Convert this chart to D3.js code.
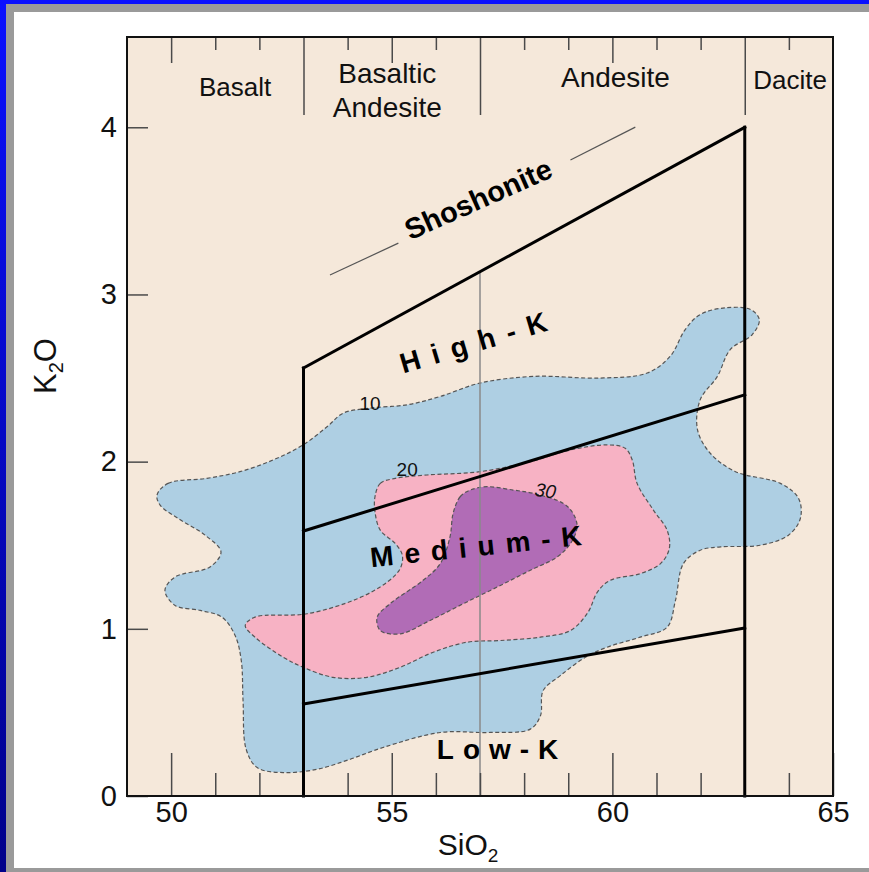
<!DOCTYPE html>
<html>
<head>
<meta charset="utf-8">
<script src="https://cdn.jsdelivr.net/npm/d3@7/dist/d3.min.js"></script>
<style>
  html, body { margin: 0; padding: 0; background: #ffffff; }
  svg { display: block; }
  text { font-family: "Liberation Sans", Arial, Helvetica, sans-serif; }
</style>
</head>
<body>
<svg id="chart" width="869" height="872"></svg>
<script>
// ---------------- DATA ----------------
const xDomain = [49, 65];          // SiO2 (wt%)
const yDomain = [0, 4.54];         // K2O (wt%)
const xMajorTicks = [50, 55, 60, 65];
const xMinorTicks = [51, 52, 53, 54, 56, 57, 58, 59, 61, 62, 63, 64];
const yTicks = [0, 1, 2, 3, 4];
const rockBoundaries = [53, 57, 63];

const rockNames = ["Basalt", "Basaltic|Andesite", "Andesite", "Dacite"];
const rockNameX = [51.45, 54.9, 60.07, 64.03];

// field boundary lines (SiO2, K2O)
const leftWall     = [[53, 0], [53, 2.56]];
const rightWall    = [[63, 0], [63, 4.0]];
const shoshoniteTop = [[53, 2.56], [63, 4.0]];
const highMedium   = [[53, 1.585], [63, 2.40]];
const mediumLow    = [[53, 0.55], [63, 1.005]];
const divider57    = [[57, 3.136], [57, 0]];
const shoDashA     = [[53.6, 3.116], [55.15, 3.307]];
const shoDashB     = [[59.05, 3.804], [60.52, 4.001]];

// contour lines (density of analyses, %)
const contourLevels = ["10", "20", "30"];
const contour10 = [
  [49.68,1.80],[49.93,1.87],[50.81,1.90],[51.56,1.94],[52.31,2.01],[52.99,2.10],
  [53.54,2.21],[53.90,2.29],[54.51,2.32],[55.35,2.34],[56.10,2.39],[57.00,2.47],
  [58.21,2.51],[59.73,2.50],[60.79,2.53],[61.31,2.63],[61.65,2.79],[61.99,2.88],
  [62.56,2.92],[63.13,2.91],[63.33,2.85],[63.17,2.76],[62.67,2.67],[62.38,2.51],
  [61.99,2.37],[61.93,2.19],[62.22,2.05],[62.79,1.94],[63.81,1.87],[64.22,1.78],
  [64.26,1.66],[63.99,1.56],[63.35,1.50],[62.45,1.49],[61.99,1.47],[61.61,1.39],
  [61.43,1.17],[61.24,1.01],[60.63,0.95],[59.88,0.89],[59.39,0.83],[58.82,0.72],
  [58.43,0.63],[58.37,0.48],[58.14,0.40],[57.23,0.38],[56.10,0.38],[54.80,0.29],
  [54.06,0.22],[53.31,0.16],[52.54,0.14],[51.95,0.17],[51.70,0.28],[51.63,0.57],
  [51.59,0.81],[51.45,0.96],[51.15,1.07],[50.66,1.11],[50.09,1.14],[49.86,1.23],
  [50.09,1.31],[50.88,1.37],[51.13,1.46],[50.77,1.56],[50.16,1.66],[49.75,1.74]
];
const contour20 = [
  [54.62,1.79],[54.74,1.87],[55.08,1.90],[55.80,1.92],[57.00,1.94],[58.14,2.00],
  [59.05,2.07],[59.88,2.10],[60.29,2.08],[60.45,2.01],[60.56,1.87],[60.93,1.71],
  [61.24,1.59],[61.29,1.48],[61.09,1.39],[60.63,1.33],[59.95,1.29],[59.66,1.22],
  [59.45,1.10],[59.05,0.99],[58.37,0.95],[57.46,0.93],[56.71,0.92],[55.94,0.86],
  [55.19,0.77],[54.44,0.71],[53.67,0.71],[52.99,0.77],[52.54,0.83],[51.90,0.95],
  [51.68,1.02],[51.90,1.07],[53.08,1.09],[54.22,1.18],[54.90,1.28],[55.19,1.36],
  [55.24,1.44],[55.08,1.51],[54.74,1.59],[54.62,1.70]
];
const contour30 = [
  [56.39,1.69],[56.55,1.79],[56.78,1.83],[57.16,1.85],[57.75,1.83],[58.21,1.81],
  [58.89,1.75],[59.11,1.69],[59.20,1.61],[59.05,1.51],[58.75,1.43],[58.14,1.35],
  [57.39,1.25],[56.62,1.15],[55.87,1.05],[55.19,0.97],[54.74,0.99],[54.67,1.07],
  [54.96,1.15],[55.71,1.29],[56.10,1.39],[56.32,1.55]
];
const contourLabelPos = [[54.51, 2.35], [55.35, 1.955], [58.48, 1.826]];

// series field names
const fieldNames = ["Shoshonite", "High-K", "Medium-K", "Low-K"];
const fieldPos = [[56.96, 3.57], [56.98, 2.721], [57.03, 1.495], [57.5, 0.281]];
const fieldAngle = [-24, -16.5, -6, 0];

// ---------------- LAYOUT ----------------
const W = 869, H = 872;
const plot = { left: 127, right: 833, top: 37, bottom: 796 };
const colors = {
  bg: "#f5e8da", c10: "#aecfe3", c20: "#f7b2c4", c30: "#b16cb6",
  dash: "#555555", tick: "#4a4a4a", thin: "#8a8a8a"
};
const font = '"Liberation Sans", Arial, Helvetica, sans-serif';

const svg = d3.select("#chart");
const defs = svg.append("defs");
const grad = defs.append("linearGradient").attr("id", "frameBlue")
  .attr("x1", 0).attr("y1", 0).attr("x2", 0).attr("y2", 1);
grad.append("stop").attr("offset", "0%").attr("stop-color", "#0a10ff");
grad.append("stop").attr("offset", "100%").attr("stop-color", "#00008a");

// slide frame
svg.append("rect").attr("x", 0).attr("y", 0).attr("width", W).attr("height", H).attr("fill", "url(#frameBlue)");
svg.append("rect").attr("x", 6).attr("y", 4).attr("width", W - 6).attr("height", H - 4).attr("fill", "#9a9a9a");
svg.append("rect").attr("x", 14).attr("y", 12).attr("width", W - 14).attr("height", H - 12 - 4).attr("fill", "#ffffff");

const x = d3.scaleLinear().domain(xDomain).range([plot.left, plot.right]);
const y = d3.scaleLinear().domain(yDomain).range([plot.bottom, plot.top]);

const g = svg.append("g");
g.append("rect").attr("x", plot.left).attr("y", plot.top)
  .attr("width", plot.right - plot.left).attr("height", plot.bottom - plot.top)
  .attr("fill", colors.bg);

// contours
const area = d3.line().x(d => x(d[0])).y(d => y(d[1])).curve(d3.curveCatmullRomClosed.alpha(0.5));
[[contour10, colors.c10], [contour20, colors.c20], [contour30, colors.c30]].forEach(([pts, c]) => {
  g.append("path").attr("d", area(pts)).attr("fill", c)
    .attr("stroke", colors.dash).attr("stroke-width", 1.2).attr("stroke-dasharray", "4 2.5");
});

// contour labels
contourLevels.forEach((lab, i) => {
  g.append("text").attr("x", x(contourLabelPos[i][0])).attr("y", y(contourLabelPos[i][1]))
    .attr("text-anchor", "middle").attr("dominant-baseline", "central")
    .attr("font-size", 19).attr("fill", "#111")
    .attr("font-style", i === 2 ? "italic" : "normal")
    .attr("transform", i === 2 ? `rotate(8,${x(contourLabelPos[i][0])},${y(contourLabelPos[i][1])})` : null)
    .text(lab);
});

// lines
const line = d3.line().x(d => x(d[0])).y(d => y(d[1]));
g.append("path").attr("d", line(divider57)).attr("stroke", colors.thin).attr("stroke-width", 1.5).attr("fill", "none");
[leftWall, rightWall, shoshoniteTop, highMedium, mediumLow].forEach(l => {
  g.append("path").attr("d", line(l)).attr("stroke", "#000").attr("stroke-width", 3)
    .attr("fill", "none").attr("stroke-linecap", "square");
});
[shoDashA, shoDashB].forEach(l => {
  g.append("path").attr("d", line(l)).attr("stroke", "#555").attr("stroke-width", 1.2).attr("fill", "none");
});

// field names
const spacing = [0, 12, 11, 9];
fieldNames.forEach((name, i) => {
  g.append("text")
    .attr("transform", `translate(${x(fieldPos[i][0])},${y(fieldPos[i][1])}) rotate(${fieldAngle[i]})`)
    .attr("text-anchor", "middle").attr("dominant-baseline", "central")
    .attr("font-size", i === 0 ? 29 : 28).attr("font-weight", "bold").attr("fill", "#000")
    .attr("letter-spacing", spacing[i])
    .text(name);
});

// rock names along the top
rockNames.forEach((n, i) => {
  const parts = n.split("|");
  const big = parts.length > 1 || n === "Andesite";
  const fs = big ? 28 : 26;
  const yy = parts.length > 1 ? [4.324, 4.12] : [n === "Andesite" ? 4.30 : (n === "Dacite" ? 4.28 : 4.24)];
  parts.forEach((p, j) => {
    g.append("text").attr("x", x(rockNameX[i])).attr("y", y(yy[j]))
      .attr("text-anchor", "middle").attr("dominant-baseline", "central")
      .attr("font-size", fs).attr("fill", "#111").text(p);
  });
});

// axes
const styleAxis = sel => {
  sel.select(".domain").remove();
  sel.selectAll("line").attr("stroke", colors.tick).attr("stroke-width", 1.5);
  sel.selectAll("text").attr("font-family", font).attr("font-size", 29).attr("fill", "#111");
};
// bottom
g.append("g").attr("transform", `translate(0,${plot.bottom})`)
  .call(d3.axisBottom(x).tickValues(xMajorTicks).tickSizeInner(-43).tickSizeOuter(0).tickPadding(5).tickFormat(d3.format("d")))
  .call(styleAxis);
g.append("g").attr("transform", `translate(0,${plot.bottom})`)
  .call(d3.axisBottom(x).tickValues(xMinorTicks.filter(v => !rockBoundaries.includes(v) || v === 57)).tickSizeInner(-23).tickSizeOuter(0).tickFormat(""))
  .call(styleAxis);
// top
g.append("g").attr("transform", `translate(0,${plot.top})`)
  .call(d3.axisTop(x).tickValues(xMajorTicks.filter(v => v < 65)).tickSizeInner(-26).tickSizeOuter(0).tickFormat(""))
  .call(styleAxis);
g.append("g").attr("transform", `translate(0,${plot.top})`)
  .call(d3.axisTop(x).tickValues(xMinorTicks.filter(v => !rockBoundaries.includes(v))).tickSizeInner(-13).tickSizeOuter(0).tickFormat(""))
  .call(styleAxis);
g.append("g").attr("transform", `translate(0,${plot.top})`)
  .call(d3.axisTop(x).tickValues(rockBoundaries).tickSizeInner(-78).tickSizeOuter(0).tickFormat(""))
  .call(styleAxis);
// left
g.append("g").attr("transform", `translate(${plot.left},0)`)
  .call(d3.axisLeft(y).tickValues(yTicks).tickSizeInner(-21).tickSizeOuter(0).tickPadding(10).tickFormat(d3.format("d")))
  .call(styleAxis);

// border
g.append("rect").attr("x", plot.left).attr("y", plot.top)
  .attr("width", plot.right - plot.left).attr("height", plot.bottom - plot.top)
  .attr("fill", "none").attr("stroke", "#111").attr("stroke-width", 2);

// axis titles
const xt = svg.append("text").attr("x", 468).attr("y", 855).attr("text-anchor", "middle")
  .attr("font-size", 30).attr("fill", "#111");
xt.append("tspan").text("SiO");
xt.append("tspan").attr("font-size", 19).attr("dy", 7).text("2");

const yt = svg.append("text").attr("transform", "translate(56,366) rotate(-90)").attr("text-anchor", "middle")
  .attr("font-size", 31).attr("fill", "#111");
yt.append("tspan").text("K");
yt.append("tspan").attr("font-size", 20).attr("dy", 7).text("2");
yt.append("tspan").attr("dy", -7).text("O");
</script>
</body>
</html>
